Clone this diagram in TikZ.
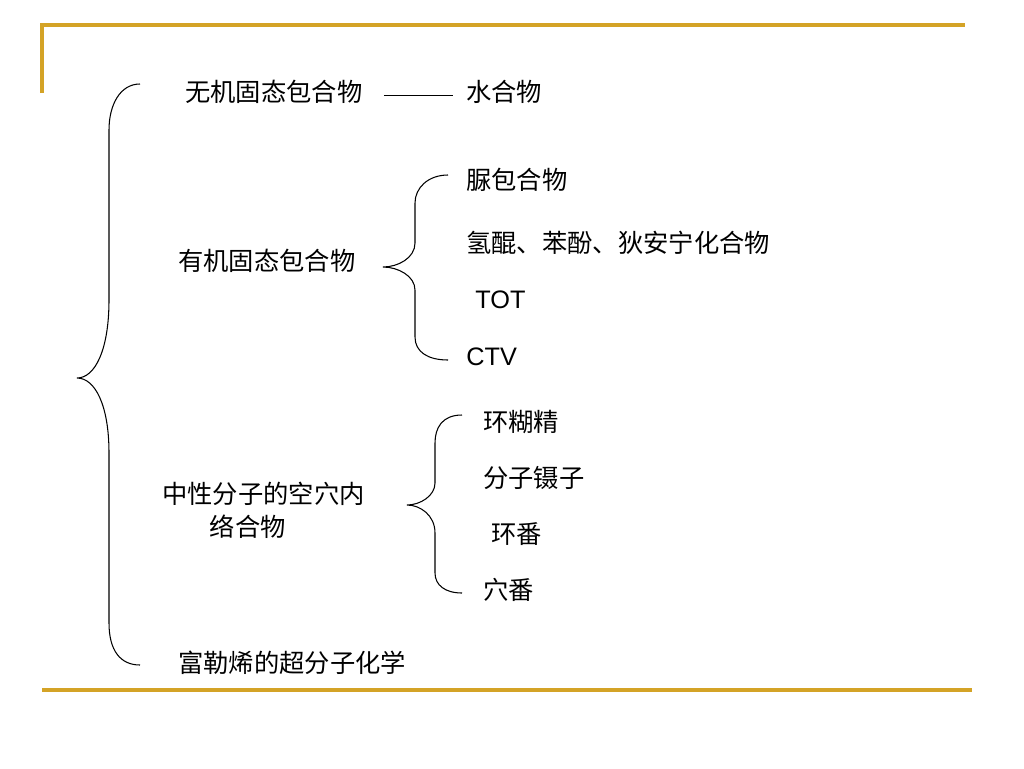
\documentclass[tikz,border=0pt]{standalone}
\usepackage{fontspec}
\setmainfont{Liberation Sans}
\newfontfamily\cjk{Noto Sans CJK SC}
\definecolor{slidegold}{RGB}{212,163,38}
\tikzset{
  itemtext/.style={anchor=west, inner sep=0pt, font=\cjk\fontsize{14.4}{19}\selectfont},
  latintext/.style={anchor=west, inner sep=0pt, font=\fontsize{14.4}{19}\selectfont},
  bracepath/.style={line width=0.6pt},
  frameline/.style={slidegold, line width=2pt}
}
\begin{document}
\begin{tikzpicture}[x=0.02cm,y=-0.02cm]
  \useasboundingbox (0,0) rectangle (1024,768);
  % Draw the slide frame lines
  \draw[frameline] (42,93) -- (42,25) -- (965,25);
  \draw[frameline] (42,690) -- (972,690);
  % Place the main classes
  \node[itemtext] (inorg) at (185,92) {无机固态包合物};
  \node[itemtext] (org) at (178,261) {有机固态包合物};
  \node[itemtext, align=left] (neutral) at (162,510) {中性分子的空穴内\\\hspace*{27pt}络合物};
  \node[itemtext] (fuller) at (178,663) {富勒烯的超分子化学};
  % Inorganic -> hydrate
  \node[itemtext] (hydrate) at (466,92) {水合物};
  \draw[line width=0.6pt, shorten <=12pt, shorten >=7.5pt] ([yshift=-2pt]inorg.east) -- ([yshift=-2pt]hydrate.west |- inorg.east);
  % Organic members
  \node[itemtext] (urea) at (466,180) {脲包合物};
  \node[itemtext] (quinol) at (466,243) {氢醌、苯酚、狄安宁化合物};
  \node[latintext] (tot) at (475,300) {TOT};
  \node[latintext] (ctv) at (466,357) {CTV};
  % Neutral molecule members
  \node[itemtext] (cyclodex) at (483,422) {环糊精};
  \node[itemtext] (tweezer) at (483,478) {分子镊子};
  \node[itemtext] (cyclophane) at (491,534) {环番};
  \node[itemtext] (cryptophane) at (483,590) {穴番};
  % Draw the big brace
  \draw[bracepath] (140,84) .. controls (120,84) and (109,105) .. (109,130) -- (109,300)
    .. controls (109,350) and (95,378) .. (77,378)
    .. controls (95,378) and (109,405) .. (109,453) -- (109,623)
    .. controls (109,650) and (120,665) .. (140,665);
  % Draw the brace of organic members
  \draw[bracepath] (448,175) .. controls (428,175) and (415,188) .. (415,203) -- (415,243)
    .. controls (415,258) and (398,267) .. (383,267)
    .. controls (398,267) and (415,276) .. (415,290) -- (415,337)
    .. controls (415,352) and (428,360) .. (448,360);
  % Draw the brace of neutral molecule members
  \draw[bracepath] (462,415) .. controls (442,415) and (435,428) .. (435,443) -- (435,483)
    .. controls (435,496) and (420,505) .. (407,505)
    .. controls (420,505) and (435,515) .. (435,533) -- (435,573)
    .. controls (435,585) and (445,593) .. (462,593);
\end{tikzpicture}
\end{document}
